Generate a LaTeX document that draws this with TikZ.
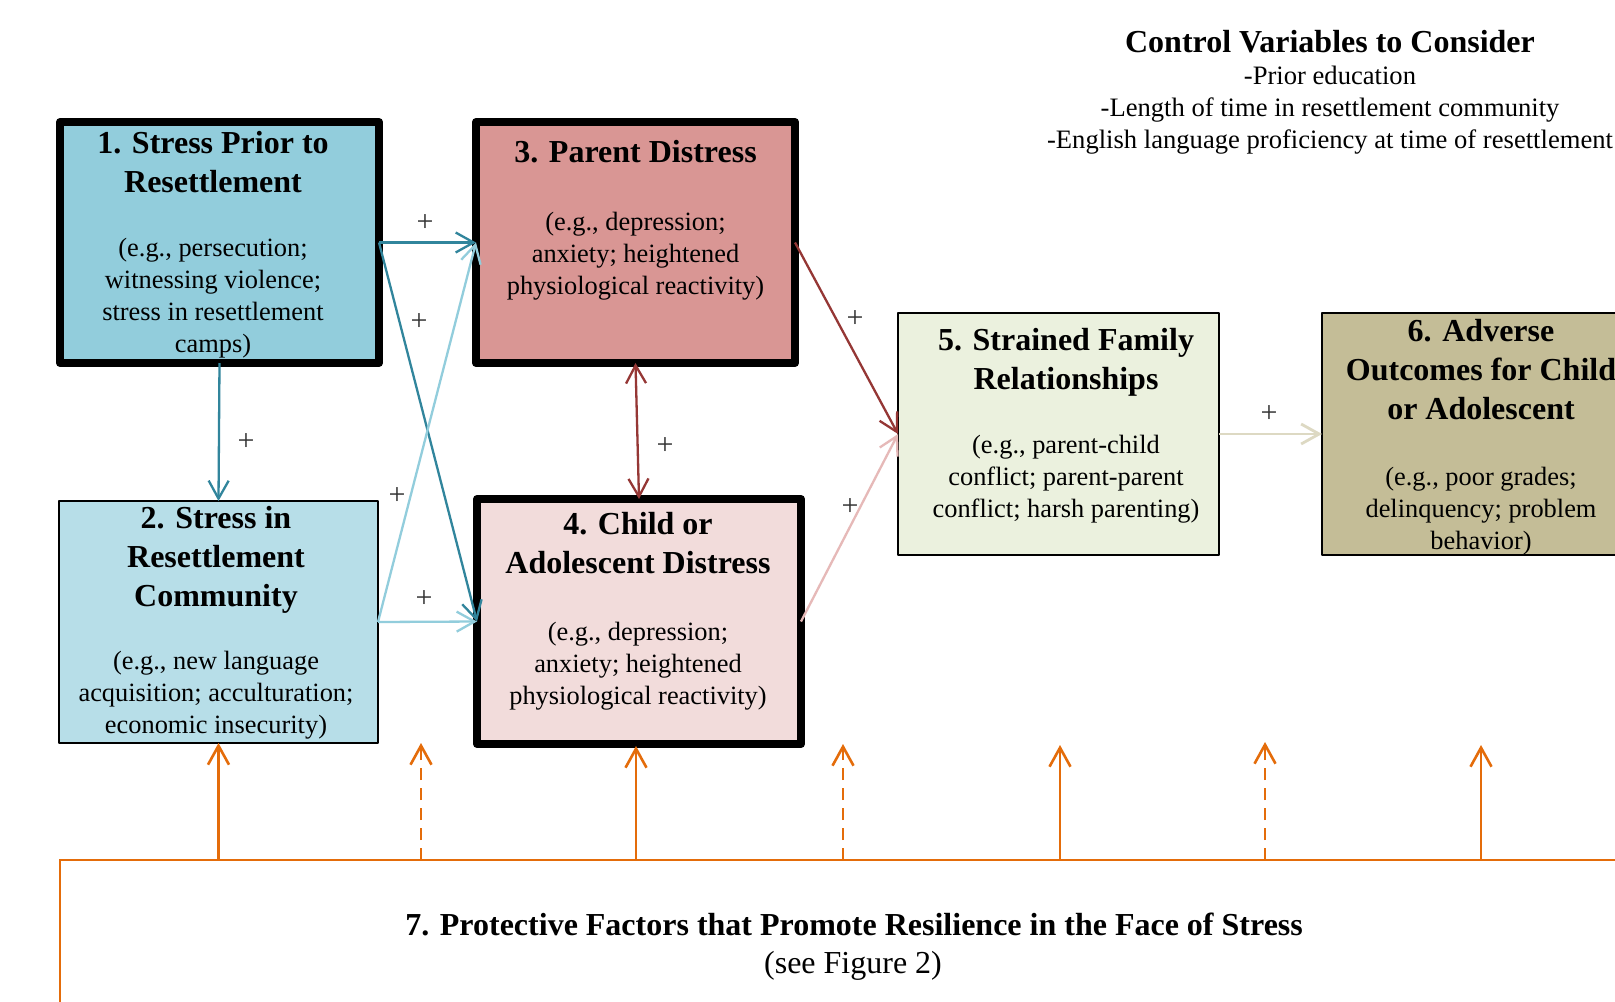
\documentclass[tikz,border=0pt]{standalone}
\usepackage{fontspec}
\setmainfont{Liberation Serif}
\usetikzlibrary{arrows.meta}
\definecolor{fillA}{HTML}{92CDDC}
\definecolor{fillB}{HTML}{B7DEE8}
\definecolor{fillC}{HTML}{D99694}
\definecolor{fillD}{HTML}{F2DCDB}
\definecolor{fillE}{HTML}{EBF1DE}
\definecolor{fillF}{HTML}{C4BD97}
\definecolor{tealArrow}{HTML}{31859C}
\definecolor{lblueArrow}{HTML}{92CDDC}
\definecolor{redArrow}{HTML}{953735}
\definecolor{pinkArrow}{HTML}{E6B9B8}
\definecolor{beigeArrow}{HTML}{DDD9C3}
\definecolor{orangeLine}{HTML}{E46C0A}
\begin{document}
\begin{tikzpicture}[x=0.5pt,y=-0.5pt,
  boxbase/.style={draw=black, outer sep=0pt, inner sep=0pt, line join=round},
  thickbox/.style={boxbase, line width=4pt},
  thinbox/.style={boxbase, line width=1.2pt},
  hd/.style={font=\fontsize{16}{19.4}\selectfont\bfseries, align=center, anchor=base, inner sep=0pt},
  bd/.style={font=\fontsize{13.2}{16}\selectfont, align=center, anchor=base, inner sep=0pt},
  plus/.style={font=\fontsize{15}{16}\selectfont, text=black!80, inner sep=0pt},
  conn/.style={line width=1.15pt, -{Straight Barb[length=9pt,width=10pt]}},
  prot/.style={draw=orangeLine, line width=1.3pt, -{Straight Barb[length=9.5pt,width=10.5pt]}},
  protdash/.style={prot, dash pattern=on 6pt off 4pt}
]
\clip (0,0) rectangle (1615,1001);
\fill[white] (0,0) rectangle (1615,1001);

% Boxes
\node[thickbox, fill=fillA, minimum width=159.5pt, minimum height=120.5pt] (b1) at (219.5,242.5) {};
\node[thickbox, fill=fillC, minimum width=159.5pt, minimum height=120.5pt] (b3) at (635.5,242.5) {};
\node[thinbox, fill=fillB, minimum width=159.5pt, minimum height=121pt] (b2) at (218.5,622) {};
\node[thickbox, fill=fillD, minimum width=162pt, minimum height=122.5pt] (b4) at (639,621.5) {};
\node[thinbox, fill=fillE, minimum width=160.5pt, minimum height=121pt] (b5) at (1058.5,434) {};
\node[thinbox, fill=fillF, minimum width=239pt, minimum height=121pt] (b6) at (1561,434) {};
\node[draw=orangeLine, line width=1.3pt, outer sep=0pt, inner sep=0pt, minimum width=870pt, minimum height=120pt] (b7) at (930,980) {};

% Texts (anchor = baseline of the last line)
\node[hd] (t1h) at (213,192) {1. Stress Prior to\\Resettlement};
\node[bd] (t1b) at (213,352) {(e.g., persecution;\\witnessing violence;\\stress in resettlement\\camps)};
\node[hd] (t3h) at (635.5,162) {3. Parent Distress};
\node[bd] (t3b) at (635.5,294) {(e.g., depression;\\anxiety; heightened\\physiological reactivity)};
\node[hd] (t2h) at (216,606) {2. Stress in\\Resettlement\\Community};
\node[bd] (t2b) at (216,733) {(e.g., new language\\acquisition; acculturation;\\economic insecurity)};
\node[hd] (t4h) at (638,573) {4. Child or\\Adolescent Distress};
\node[bd] (t4b) at (638,704) {(e.g., depression;\\anxiety; heightened\\physiological reactivity)};
\node[hd] (t5h) at (1066,389) {5. Strained Family\\Relationships};
\node[bd] (t5b) at (1066,517) {(e.g., parent-child\\conflict; parent-parent\\conflict; harsh parenting)};
\node[hd] (t6h) at (1481,419) {6. Adverse\\Outcomes for Child\\or Adolescent};
\node[bd] (t6b) at (1481,549) {(e.g., poor grades;\\delinquency; problem\\behavior)};
\node[hd] (t7h) at (854,935) {7. Protective Factors that Promote Resilience in the Face of Stress};
\node[bd, font=\fontsize{16}{19}\selectfont] (t7b) at (853,973) {(see Figure 2)};
\node[hd] (cvh) at (1330,52) {Control Variables to Consider};
\node[bd, font=\fontsize{13.3}{16}\selectfont] (cvb) at (1330,148) {-Prior education\\-Length of time in resettlement community\\-English language proficiency at time of resettlement};

% Connectors
\draw[conn, draw=tealArrow] (b1.east) -- (b3.west);
\draw[conn, draw=tealArrow] (b1.east) -- (b4.west);
\draw[conn, draw=tealArrow] (b1.south) -- (b2.north);
\draw[conn, draw=lblueArrow] (b2.east) -- (b3.west);
\draw[conn, draw=lblueArrow] (b2.east) -- (b4.west);
\draw[conn, draw=redArrow, {Straight Barb[length=9pt,width=10pt]}-{Straight Barb[length=9pt,width=10pt]}] (b3.south) -- (b4.north);
\draw[conn, draw=redArrow] (b3.east) -- (b5.west);
\draw[conn, draw=pinkArrow] (b4.east) -- (b5.west);
\draw[conn, draw=beigeArrow, line width=1.4pt] (b5.east) -- (b6.west);

% Plus labels
\node[plus] (p13) at (425,223) {+};
\node[plus] (p14) at (419,322) {+};
\node[plus] (p12) at (246,442) {+};
\node[plus] (p23) at (397,496) {+};
\node[plus] (p24) at (424,599) {+};
\node[plus] (p34) at (665,446) {+};
\node[plus] (p35) at (855,319) {+};
\node[plus] (p45) at (850,507) {+};
\node[plus] (p56) at (1269,414) {+};

% Protective arrows
\coordinate (s1) at (218.5,860); \coordinate (s2) at (421,860); \coordinate (s3) at (636,860);
\coordinate (s4) at (843,860); \coordinate (s5) at (1060,860); \coordinate (s6) at (1265,860);
\coordinate (s7) at (1481,860);
\coordinate (e2) at (421,743); \coordinate (e3) at (636,746); \coordinate (e4) at (843,744);
\coordinate (e5) at (1060,745); \coordinate (e6) at (1265,742); \coordinate (e7) at (1481,745);
\draw[prot] (s1) -- (b2.south);
\draw[protdash] (s2) -- (e2);
\draw[prot] (s3) -- (e3);
\draw[protdash] (s4) -- (e4);
\draw[prot] (s5) -- (e5);
\draw[protdash] (s6) -- (e6);
\draw[prot] (s7) -- (e7);
\end{tikzpicture}
\end{document}
